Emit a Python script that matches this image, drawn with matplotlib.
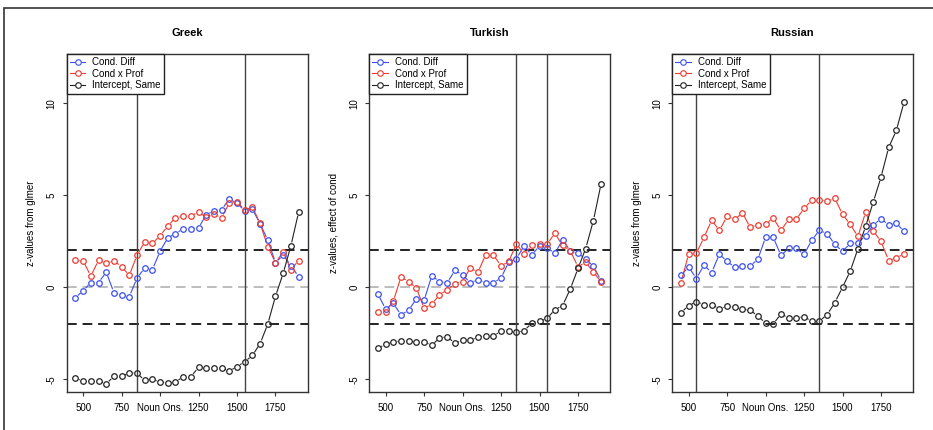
import matplotlib
matplotlib.use("Agg")
import matplotlib.pyplot as plt
from matplotlib.lines import Line2D
from matplotlib.patches import Rectangle
import numpy as np

plt.rcParams['font.family'] = ['Liberation Sans', 'DejaVu Sans']

# time windows (ms), 450..1900 in steps of 50
times = [450, 500, 550, 600, 650, 700, 750, 800, 850, 900,
         950, 1000, 1050, 1100, 1150, 1200, 1250, 1300, 1350, 1400,
         1450, 1500, 1550, 1600, 1650, 1700, 1750, 1800, 1850, 1900]

titles = ['Greek', 'Turkish', 'Russian']
ylabels = ['z-values from glmer', 'z-values, effect of cond', 'z-values from glmer']
vlines = [[850, 1550], [1350, 1550], [550, 1350]]

greek_diff = [-0.58, -0.18, 0.25, 0.25, 0.82, -0.29, -0.44, -0.51, 0.49, 1.05,
              0.96, 1.95, 2.69, 2.91, 3.18, 3.18, 3.22, 3.95, 4.16, 4.22,
              4.8, 4.56, 4.16, 4.24, 3.45, 2.56, 1.33, 1.75, 1.18, 0.58]
greek_prof = [1.47, 1.44, 0.6, 1.47, 1.29, 1.44, 1.11, 0.65, 1.73, 2.47,
              2.38, 2.8, 3.33, 3.78, 3.87, 3.87, 4.09, 3.8, 3.96, 3.78,
              4.58, 4.64, 4.2, 4.36, 3.47, 2.2, 1.33, 1.93, 0.95, 1.45]
greek_int = [-4.96, -5.09, -5.09, -5.09, -5.25, -4.85, -4.85, -4.65, -4.67, -5.07,
             -5.0, -5.16, -5.2, -5.15, -4.87, -4.87, -4.35, -4.4, -4.4, -4.4,
             -4.56, -4.31, -4.05, -3.71, -3.07, -2.0, -0.49, 0.76, 2.25, 4.07]

turkish_diff = [-0.38, -1.18, -0.87, -1.51, -1.24, -0.64, -0.71, 0.62, 0.31, 0.24,
                0.91, 0.67, 0.25, 0.42, 0.24, 0.24, 0.51, 1.36, 1.56, 2.24,
                1.75, 2.25, 2.15, 1.84, 2.58, 1.98, 1.84, 1.55, 1.13, 0.36]
turkish_prof = [-1.33, -1.33, -0.76, 0.56, 0.29, -0.04, -1.15, -0.91, -0.42, -0.13,
                0.18, 0.31, 1.05, 0.82, 1.76, 1.76, 1.16, 1.4, 2.36, 1.8,
                2.27, 2.33, 2.36, 2.93, 2.27, 1.98, 1.11, 1.36, 0.82, 0.29]
turkish_int = [-3.31, -3.11, -2.98, -2.91, -2.91, -2.98, -2.98, -3.15, -2.76, -2.69,
               -3.04, -2.89, -2.89, -2.71, -2.64, -2.64, -2.4, -2.4, -2.44, -2.36,
               -1.95, -1.85, -1.69, -1.22, -1.0, -0.1, 1.02, 2.1, 3.62, 5.62]

russian_diff = [0.64, 1.11, 0.47, 1.2, 0.8, 1.8, 1.4, 1.09, 1.15, 1.15,
                1.53, 2.71, 2.71, 1.73, 2.11, 2.11, 1.78, 2.56, 3.09, 2.91,
                2.33, 1.95, 2.38, 2.4, 2.8, 3.4, 3.71, 3.4, 3.47, 3.04]
russian_prof = [0.24, 1.8, 1.84, 2.71, 3.64, 3.09, 3.85, 3.69, 4.04, 3.25,
                3.4, 3.44, 3.76, 3.09, 3.69, 3.69, 4.29, 4.73, 4.75, 4.67,
                4.84, 3.96, 3.42, 2.76, 4.07, 3.05, 2.49, 1.45, 1.6, 1.82]
russian_int = [-1.38, -1.0, -0.78, -0.95, -0.95, -1.16, -1.04, -1.09, -1.2, -1.25,
               -1.56, -1.95, -2.0, -1.45, -1.67, -1.67, -1.6, -1.85, -1.84, -1.49,
               -0.84, 0.0, 0.87, 2.09, 3.31, 4.64, 5.98, 7.6, 8.53, 10.07]

diffs = [greek_diff, turkish_diff, russian_diff]
profs = [greek_prof, turkish_prof, russian_prof]
ints = [greek_int, turkish_int, russian_int]

series_names = ['Cond. Diff', 'Cond x Prof', 'Intercept, Same']
series_cols = ['#3a4ef2', '#ee3b30', '#222222']

xticks = [500, 750, 1000, 1250, 1500, 1750]
xticklabels = ['500', '750', 'Noun Ons.', '1250', '1500', '1750']
yticks = [-5, 0, 5, 10]

W, H = 933, 430
fig = plt.figure(figsize=(W / 100, H / 100), dpi=100)

# outer frame (only top and left edges visible in the crop)
fig.patches.append(Rectangle((4 / W, -0.1), 1.2, (H - 8) / H + 0.1, transform=fig.transFigure,
                             fill=False, edgecolor='#333333', linewidth=1.2))


def plot_b(ax, xs, ys, col, gap=3.6):
    # R style type="b": points with line pieces that stop short of each point
    pts = ax.transData.transform(np.column_stack([xs, ys]))
    inv = ax.transData.inverted()
    for k in range(len(pts) - 1):
        p0, p1 = pts[k], pts[k + 1]
        d = p1 - p0
        L = np.hypot(d[0], d[1])
        if L <= 2 * gap + 0.5:
            continue
        u = d / L
        seg = inv.transform(np.array([p0 + u * gap, p1 - u * gap]))
        ax.plot(seg[:, 0], seg[:, 1], color=col, lw=0.8, zorder=3,
                solid_capstyle='butt')
    ax.plot(xs, ys, ls='none', marker='o', ms=4, mfc='none', mec=col, mew=0.9, zorder=4)


lefts = [66.5, 369.0, 672.0]
for i in range(3):
    ax = fig.add_axes([lefts[i] / W, 38.3 / H, 241 / W, 337.7 / H])
    ax.set_xlim(392, 1958)
    ax.set_ylim(-5.68, 12.68)
    ax.axhline(2, color='#222222', ls=(0, (5, 3)), lw=1.4, zorder=1)
    ax.axhline(-2, color='#222222', ls=(0, (5, 3)), lw=1.4, zorder=1)
    ax.axhline(0, color='#bdbdbd', ls=(0, (5, 3)), lw=1.4, zorder=1)
    for v in vlines[i]:
        ax.axvline(v, color='#444444', lw=1.0, zorder=1)
    for ys, c in zip([diffs[i], profs[i], ints[i]], series_cols):
        plot_b(ax, times, ys, c)
    ax.set_xticks(xticks)
    ax.set_xticklabels(xticklabels)
    ax.set_yticks(yticks)
    ax.set_yticklabels([str(t) for t in yticks], rotation=90, va='center')
    ax.tick_params(length=3, width=0.8, labelsize=7, color='#333333')
    ax.tick_params(axis='x', pad=5)
    ax.tick_params(axis='y', pad=4)
    for s in ax.spines.values():
        s.set_linewidth(1.0)
        s.set_color('#333333')
    ax.set_title(titles[i], fontsize=8, fontweight='bold', pad=13)
    ax.set_ylabel(ylabels[i], fontsize=7)
    ax.yaxis.set_label_coords(-0.125, 0.5)

    handles = [Line2D([], [], color=c, lw=0.8, marker='o', ms=4, mfc='white', mec=c, mew=0.8)
               for c in series_cols]
    leg = ax.legend(handles, series_names, loc='upper left', bbox_to_anchor=(0, 1),
                    borderaxespad=0, fontsize=7, fancybox=False, framealpha=1,
                    edgecolor='#222222', handlelength=1.6, handletextpad=0.7,
                    labelspacing=0.15, borderpad=0.35, numpoints=1)
    leg.get_frame().set_linewidth(1.0)
    leg.set_zorder(5)

fig.savefig('out.png', dpi=100)
